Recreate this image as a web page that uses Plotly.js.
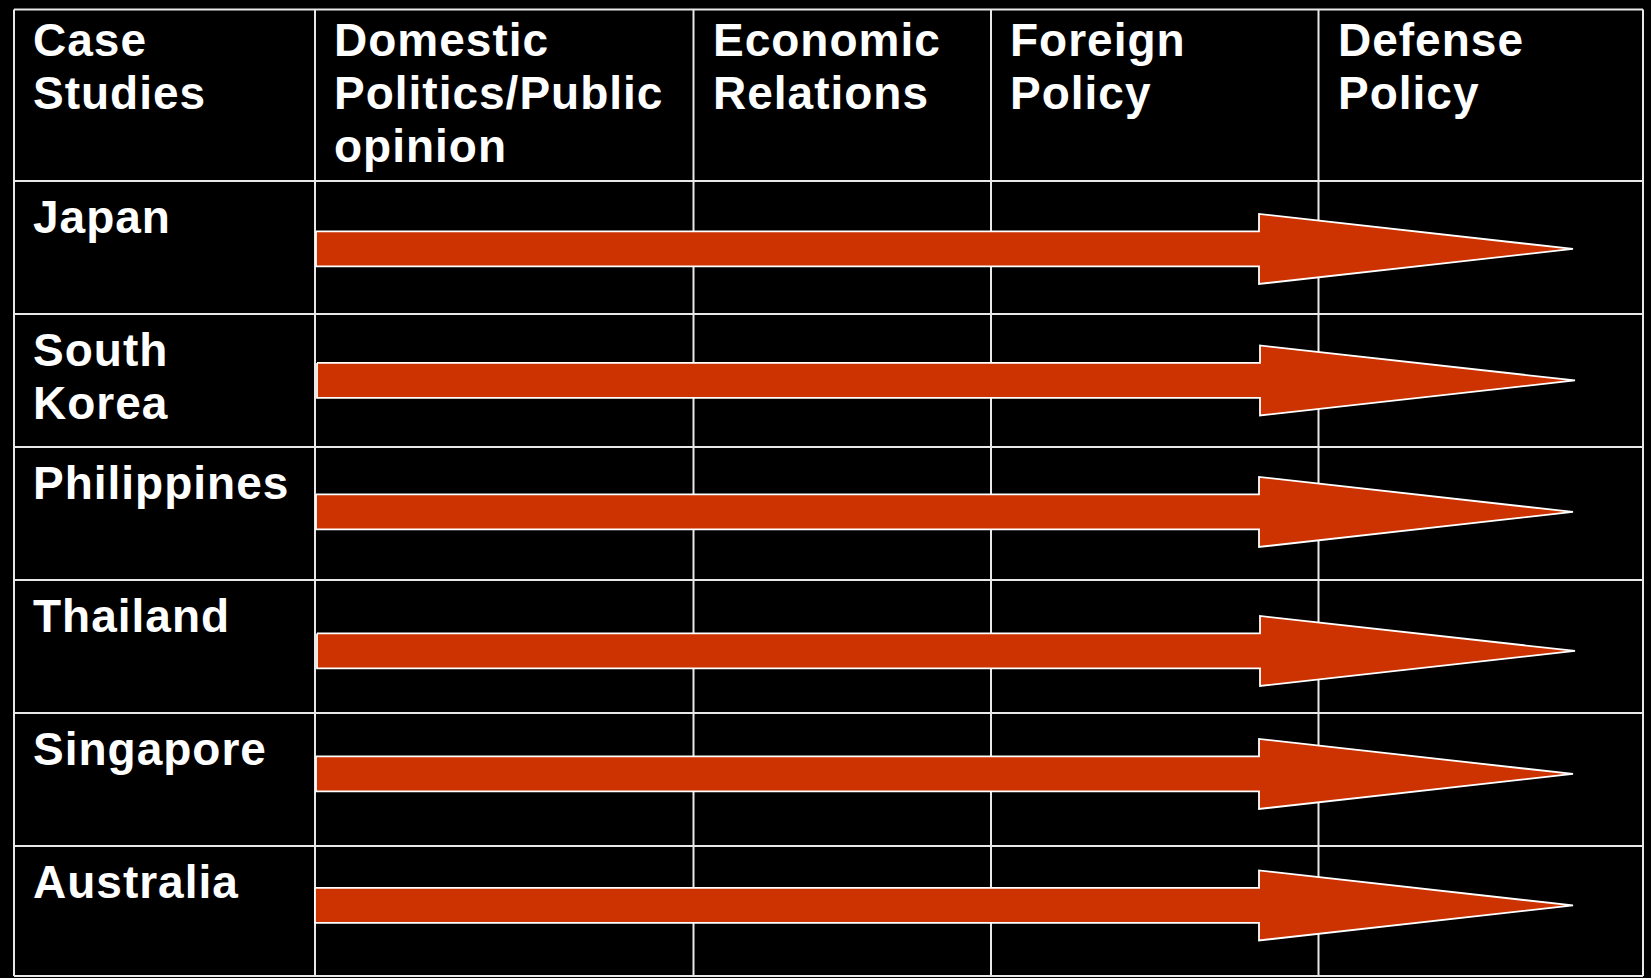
<!DOCTYPE html>
<html>
<head>
<meta charset="utf-8">
<script src="https://cdn.plot.ly/plotly-3.0.1.min.js"></script>
<style>
  html, body { margin: 0; padding: 0; background: #000; }
  #chart { width: 1651px; height: 978px; }
  #chart .annotation-text { letter-spacing: 1px; }
</style>
</head>
<body>
<div id="chart"></div>
<script>
// ---- data ----
const headers = ['Case<br>Studies', 'Domestic<br>Politics/Public<br>opinion', 'Economic<br>Relations', 'Foreign<br>Policy', 'Defense<br>Policy'];
const cases = ['Japan', 'South<br>Korea', 'Philippines', 'Thailand', 'Singapore', 'Australia'];
// arrow extents along the horizontal (policy) scale, one per case
const arrowStart = [316, 317, 316, 317, 316, 315];
const headBase = [1259, 1260, 1259, 1260, 1259, 1259];
const arrowTip = [1573, 1575, 1573, 1575, 1573, 1573];

// ---- layout constants ----
const W = 1651, H = 978;
const PX_PER_ROW = 133;
const yTopPx = -1.8607;            // y value at the top of the page
const yAt = px => yTopPx + px / PX_PER_ROW;
const colEdges = [14, 315, 693.5, 991, 1318.5, 1643];
const frameTop = yAt(9.5), frameBottom = yAt(976);
const headerBottom = -0.5;
const rowNudgePx = [1.5, 0, -1.5, 4.5, -5.5, -7];   // small vertical placement of each arrow in its row
const shaftHalf = 17.5 / PX_PER_ROW, headHalf = 35 / PX_PER_ROW;
const lineColor = '#e8e8e8';
const FONT = {family: '"Liberation Sans", Arial, sans-serif', size: 46, color: '#ffffff', weight: 'bold'};
const LINE_STEP = 53 / PX_PER_ROW;

// ---- arrows ----
const ax = [], ay = [];
cases.forEach((c, i) => {
  const y = i + rowNudgePx[i] / PX_PER_ROW;
  const pts = [
    [arrowStart[i], y - shaftHalf], [headBase[i], y - shaftHalf], [headBase[i], y - headHalf],
    [arrowTip[i], y], [headBase[i], y + headHalf], [headBase[i], y + shaftHalf],
    [arrowStart[i], y + shaftHalf], [arrowStart[i], y - shaftHalf]
  ];
  pts.forEach(p => { ax.push(p[0]); ay.push(p[1]); });
  ax.push(null); ay.push(null);
});

const arrows = {
  type: 'scatter', mode: 'lines', x: ax, y: ay,
  fill: 'toself', fillcolor: '#cc3300',
  line: {color: '#ffffff', width: 1.8},
  connectgaps: false, hoverinfo: 'skip', showlegend: false
};

// ---- grid shapes ----
const shapes = [];
colEdges.forEach(x => {
  shapes.push({type: 'line', xref: 'x', yref: 'y', x0: x, x1: x, y0: frameTop, y1: frameBottom,
    line: {color: lineColor, width: 2}, layer: 'below'});
});
const hLines = [frameTop, headerBottom];
for (let i = 1; i < cases.length; i++) hLines.push(i - 0.5);
hLines.push(frameBottom);
hLines.forEach(y => {
  shapes.push({type: 'line', xref: 'x', yref: 'y', x0: colEdges[0], x1: colEdges[colEdges.length - 1], y0: y, y1: y,
    line: {color: lineColor, width: 2}, layer: 'below'});
});

// ---- text ----
const annotations = [];
const padX = 17;
function addCell(text, x, yTop) {
  text.split('<br>').forEach((line, k) => {
    annotations.push({text: line, x: x, y: yTop + k * LINE_STEP, xref: 'x', yref: 'y',
      xanchor: 'left', yanchor: 'top', align: 'left', showarrow: false, font: FONT});
  });
}
headers.forEach((h, j) => addCell(h, colEdges[j] + padX, yAt(12)));
cases.forEach((c, i) => addCell(c, colEdges[0] + padX, i - 0.5 + 8 / PX_PER_ROW));

const layout = {
  width: W, height: H,
  margin: {l: 0, r: 0, t: 0, b: 0, pad: 0},
  paper_bgcolor: '#000000', plot_bgcolor: '#000000',
  xaxis: {range: [0, W], visible: false, fixedrange: true},
  yaxis: {range: [yAt(H), yAt(0)], visible: false, fixedrange: true},
  shapes: shapes, annotations: annotations,
  showlegend: false, hovermode: false
};

Plotly.newPlot('chart', [arrows], layout, {displayModeBar: false, staticPlot: true});
</script>
</body>
</html>
